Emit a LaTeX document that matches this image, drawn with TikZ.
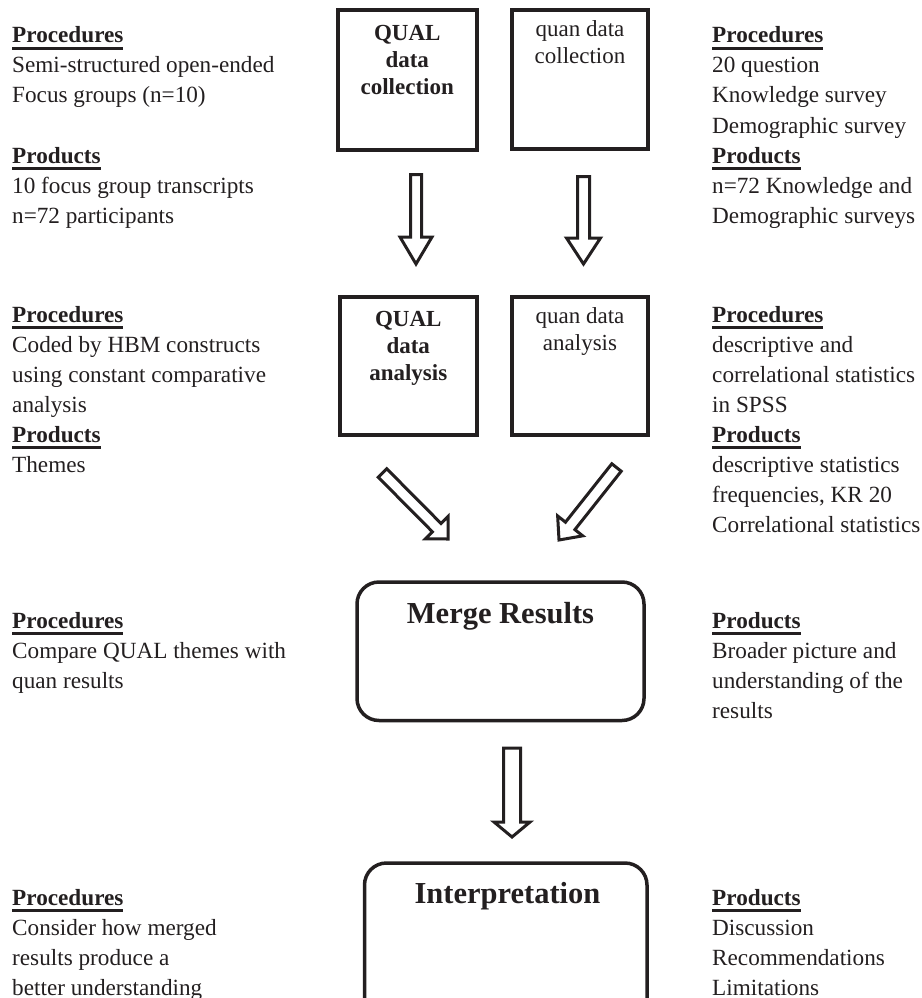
\documentclass[tikz,border=0pt]{standalone}
\usepackage{fontspec}
\setmainfont{Liberation Serif}
\usetikzlibrary{calc}
\definecolor{ink}{RGB}{35,31,32}
\newcommand\myhd[1]{\setbox0=\hbox{\bfseries #1}\rlap{\rule[-7pt]{\wd0}{2.8pt}}\box0}
% #1 tail, #2 tip, #3 shaft half width, #4 head half width, #5 head length
\newcommand\blockarr[5]{%
  \coordinate (bac) at ($(#2)!#5!(#1)$);
  \draw[barrow] ($(#1)!#3!90:(#2)$) -- ($(bac)!#3!-90:(#1)$) -- ($(bac)!#4!-90:(#1)$)
    -- (#2) -- ($(bac)!#4!90:(#1)$) -- ($(bac)!#3!90:(#1)$) -- ($(#1)!#3!-90:(#2)$) -- cycle;}
\begin{document}
\begin{tikzpicture}[x=1pt,y=-1pt,
  sqbox/.style={draw=ink, line width=4pt, inner sep=0pt, line join=miter},
  rbox/.style={draw=ink, line width=3.5pt, inner sep=0pt, rounded corners=22pt},
  barrow/.style={draw=ink, line width=3pt, line join=miter, fill=white},
  txt/.style={anchor=base west, inner sep=0pt, text=ink, font=\fontsize{23.2}{30}\selectfont},
  btxt/.style={anchor=base, inner sep=0pt, text=ink, font=\fontsize{23}{27}\selectfont\bfseries},
  ntxt/.style={anchor=base, inner sep=0pt, text=ink, font=\fontsize{23}{27}\selectfont},
  bigtxt/.style={anchor=base, inner sep=0pt, text=ink, font=\fontsize{30.5}{36}\selectfont\bfseries}]
\path[use as bounding box] (0,0) rectangle (921,998);
\clip (0,0) rectangle (921,998);

% boxes
\node[sqbox, minimum width=139.5pt, minimum height=139pt] (qualc) at (407.25,80) {};
\node[sqbox, minimum width=136pt, minimum height=138pt] (quanc) at (580,79.5) {};
\node[sqbox, minimum width=137.5pt, minimum height=138pt] (quala) at (408.25,366) {};
\node[sqbox, minimum width=136pt, minimum height=138pt] (quana) at (580,366) {};
\node[rbox, minimum width=287pt, minimum height=138.5pt] (merge) at (500.5,651.25) {};
\node[rbox, minimum width=282.5pt, minimum height=180pt] (interp) at (505.75,953) {};

% box texts
\node[btxt] (qualct) at ($(qualc.north)+(0,32.5)$) {\begin{tabular}[t]{@{}c@{}}QUAL\\ data\\ collection\end{tabular}};
\node[ntxt] (quanct) at ($(quanc.north)+(0,28)$) {\begin{tabular}[t]{@{}c@{}}quan data\\ collection\end{tabular}};
\node[btxt] (qualat) at ($(quala.north)+(0,31)$) {\begin{tabular}[t]{@{}c@{}}QUAL\\ data\\ analysis\end{tabular}};
\node[ntxt] (quanat) at ($(quana.north)+(0,28.5)$) {\begin{tabular}[t]{@{}c@{}}quan data\\ analysis\end{tabular}};
\node[bigtxt] (merget) at ($(merge.north)+(0,43)$) {Merge Results};
\node[bigtxt] (interpt) at ($(interp.north)+(1.75,42)$) {Interpretation};

% arrows
\coordinate (a1t) at (416,174.5);   \coordinate (a1h) at (416,264);
\coordinate (a2t) at (583.5,176.5); \coordinate (a2h) at (583.5,264);
\coordinate (a3t) at (382.5,473);   \coordinate (a3h) at (448,539);
\coordinate (a4t) at (616.5,467.5); \coordinate (a4h) at (559,540);
\coordinate (a5t) at (512,748);     \coordinate (a5h) at (512,837);
\blockarr{a1t}{a1h}{5.5pt}{16pt}{27pt}
\blockarr{a2t}{a2h}{6pt}{17pt}{26pt}
\blockarr{a3t}{a3h}{6pt}{16pt}{16pt}
\blockarr{a4t}{a4h}{6pt}{16pt}{18pt}
\blockarr{a5t}{a5h}{8.5pt}{18pt}{15pt}

% left column
\node[txt] (l1) at (12,43) {\begin{tabular}[t]{@{}l@{}}\myhd{Procedures}\\ Semi-structured open-ended\\ Focus groups (n=10)\\ \\ \myhd{Products}\\ 10 focus group transcripts\\ n=72 participants\end{tabular}};
\node[txt] (l2) at (12,322) {\begin{tabular}[t]{@{}l@{}}\myhd{Procedures}\\ Coded by HBM constructs\\ using constant comparative\\ analysis\\ \myhd{Products}\\ Themes\end{tabular}};
\node[txt] (l3) at (12,628) {\begin{tabular}[t]{@{}l@{}}\myhd{Procedures}\\ Compare QUAL themes with\\ quan results\end{tabular}};
\node[txt] (l4) at (12,905) {\begin{tabular}[t]{@{}l@{}}\myhd{Procedures}\\ Consider how merged\\ results produce a\\ better understanding\end{tabular}};

% right column
\node[txt] (r1) at (712,43) {\begin{tabular}[t]{@{}l@{}}\myhd{Procedures}\\ 20 question\\ Knowledge survey\\ Demographic survey\\ \myhd{Products}\\ n=72 Knowledge and\\ Demographic surveys\end{tabular}};
\node[txt] (r2) at (712,322) {\begin{tabular}[t]{@{}l@{}}\myhd{Procedures}\\ descriptive and\\ correlational statistics\\ in SPSS\\ \myhd{Products}\\ descriptive statistics\\ frequencies, KR 20\\ Correlational statistics\end{tabular}};
\node[txt] (r3) at (712,628) {\begin{tabular}[t]{@{}l@{}}\myhd{Products}\\ Broader picture and\\ understanding of the\\ results\end{tabular}};
\node[txt] (r4) at (712,905) {\begin{tabular}[t]{@{}l@{}}\myhd{Products}\\ Discussion\\ Recommendations\\ Limitations\end{tabular}};
\end{tikzpicture}
\end{document}
